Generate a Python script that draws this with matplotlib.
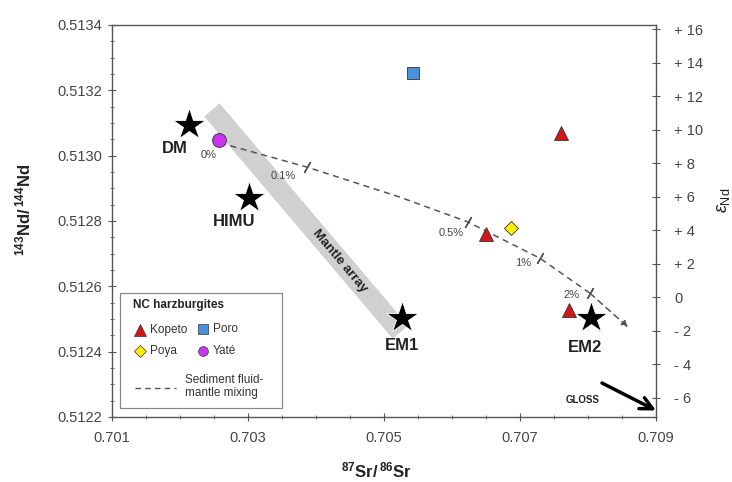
import matplotlib
matplotlib.use("Agg")
import matplotlib.pyplot as plt
from matplotlib.patches import Rectangle
from matplotlib.ticker import MultipleLocator, FixedLocator, FixedFormatter

plt.rcParams['font.family'] = ['Liberation Sans', 'DejaVu Sans']
plt.rcParams['mathtext.fontset'] = 'custom'
plt.rcParams['mathtext.rm'] = 'Liberation Sans'
plt.rcParams['mathtext.bf'] = 'Liberation Sans:bold'
plt.rcParams['mathtext.it'] = 'Liberation Sans:italic'

# ---- data ----
kopeto_sr = [0.70760, 0.70650, 0.70772]
kopeto_nd = [0.513069, 0.512760, 0.512527]
poro_sr = [0.70543]
poro_nd = [0.513253]
poya_sr = [0.70687]
poya_nd = [0.512778]
yate_sr = [0.70257]
yate_nd = [0.513048]

em_names = ["DM", "HIMU", "EM1", "EM2"]
em_sr = [0.70213, 0.70301, 0.70526, 0.70804]
em_nd = [0.513094, 0.512870, 0.512503, 0.512503]
em_label_sr = [0.701926, 0.702794, 0.705265, 0.707956]
em_label_nd = [0.513023, 0.512797, 0.512420, 0.512414]

mix_sr = [0.702588, 0.703868, 0.705235, 0.706235, 0.707294, 0.708029, 0.708588]
mix_nd = [0.513039, 0.512965, 0.512873, 0.512797, 0.512686, 0.512579, 0.512475]
mix_tick_sr = [0.703868, 0.706235, 0.707294, 0.708029]
mix_tick_nd = [0.512965, 0.512797, 0.512686, 0.512579]
mix_labels = ["0%", "0.1%", "0.5%", "1%", "2%"]
mix_label_sr = [0.702426, 0.703515, 0.705985, 0.707044, 0.707750]
mix_label_nd = [0.513002, 0.512938, 0.512763, 0.512671, 0.512573]

mantle_sr = [0.70247, 0.70524]
mantle_nd = [0.51314, 0.51246]

gloss_from = (0.708206, 0.512304)
gloss_to = (0.70900, 0.512220)

sr_ticks = [0.701, 0.703, 0.705, 0.707, 0.709]
sr_labels = ["0.701", "0.703", "0.705", "0.707", "0.709"]
eps_ticks = [-6, -4, -2, 0, 2, 4, 6, 8, 10, 12, 14, 16]
eps_labels = ["- 6", "- 4", "- 2", "0", "+ 2", "+ 4", "+ 6", "+ 8", "+ 10", "+ 12", "+ 14", "+ 16"]

# ---- figure ----
fig = plt.figure(figsize=(7.32, 4.82), dpi=100)
ax = fig.add_axes([112/732, 1-417/482, 544/732, 392/482])
ax.set_xlim(0.701, 0.709)
ax.set_ylim(0.5122, 0.5134)

tick_col = '#444444'
for s in ax.spines.values():
    s.set_color('#555555')
    s.set_linewidth(1.0)

# mantle array band
ax.plot(mantle_sr, mantle_nd, color='#d0d0d0', lw=14.5, solid_capstyle='butt', zorder=1)
ax.text(0.70435, 0.512677, "Mantle array", rotation=-50, rotation_mode='anchor',
        ha='center', va='center', fontsize=9.5, fontweight='bold', color='#222222', zorder=2)

# mixing curve
ax.plot(mix_sr[:-1], mix_nd[:-1], ls=(0, (4, 3)), color='#555555', lw=1.1, zorder=2)
ax.annotate("", xy=(mix_sr[-1], mix_nd[-1]), xytext=(mix_sr[-2], mix_nd[-2]),
            arrowprops=dict(arrowstyle='-|>', color='#555555', lw=1.1, ls=(0, (4, 3)),
                            mutation_scale=9, shrinkA=0, shrinkB=0), zorder=2)
ax.plot(mix_tick_sr, mix_tick_nd, ls='none', marker=(2, 2, -30), ms=9, mew=1.0,
        color='#555555', zorder=2)
for lab, xs, ys in zip(mix_labels, mix_label_sr, mix_label_nd):
    ax.text(xs, ys, lab, fontsize=8, color='#444444', ha='center', va='center', zorder=3)

# end members
ax.plot(em_sr, em_nd, ls='none', marker='*', ms=24, color='black', mec='white', mew=0.6, zorder=4)
for n, xs, ys in zip(em_names, em_label_sr, em_label_nd):
    ax.text(xs, ys, n, fontsize=12, fontweight='bold', color='#222222', ha='center', va='center', zorder=5)

# samples
ax.plot(kopeto_sr, kopeto_nd, ls='none', marker='^', ms=10, mfc='#d01818', mec='#333333', mew=0.6, zorder=6)
ax.plot(poya_sr, poya_nd, ls='none', marker='D', ms=7.5, mfc='#ffee00', mec='#333333', mew=0.6, zorder=6)
ax.plot(poro_sr, poro_nd, ls='none', marker='s', ms=9, mfc='#4a90dd', mec='#333333', mew=0.6, zorder=6)
ax.plot(yate_sr, yate_nd, ls='none', marker='o', ms=10, mfc='#cc33ee', mec='#333333', mew=0.6, zorder=6)

# GLOSS
ax.annotate("", xy=gloss_to, xytext=gloss_from,
            arrowprops=dict(arrowstyle='->', color='black', lw=2.5, mutation_scale=22,
                            shrinkA=0, shrinkB=0), annotation_clip=False, zorder=7)
ax.text(0.707926, 0.512251, "GLOSS", fontsize=7, fontweight='bold', color='#222222',
        ha='center', va='center')

# legend (drawn in axes-fraction coordinates)
T = ax.transAxes
ax.add_patch(Rectangle((0.0147, 0.023), 0.2978, 0.293, transform=T, facecolor='white',
                       edgecolor='#888888', lw=0.9, zorder=8))
ax.text(0.038, 0.286, "NC harzburgites", transform=T, fontsize=8.5, fontweight='bold',
        color='#222222', ha='left', va='center', zorder=9)
leg_items = [
    (0.051, 0.222, '^', 8, '#d01818', 'Kopeto'),
    (0.167, 0.224, 's', 6.5, '#4a90dd', 'Poro'),
    (0.051, 0.168, 'D', 6, '#ffee00', 'Poya'),
    (0.167, 0.168, 'o', 7, '#cc33ee', 'Yaté'),
]
for fx, fy, mk, ms, fc, lab in leg_items:
    ax.plot([fx], [fy], transform=T, ls='none', marker=mk, ms=ms, mfc=fc, mec='#333333',
            mew=0.5, zorder=9, clip_on=False)
    ax.text(fx + 0.018, fy, lab, transform=T, fontsize=8.5, color='#333333',
            ha='left', va='center', zorder=9)
ax.plot([0.042, 0.118], [0.074, 0.074], transform=T, ls=(0, (4, 3)), color='#555555',
        lw=1.0, zorder=9)
ax.text(0.134, 0.077, "Sediment fluid-\nmantle mixing", transform=T, fontsize=8.5,
        color='#333333', ha='left', va='center', linespacing=1.1, zorder=9)

# axes ticks
ax.xaxis.set_major_locator(FixedLocator(sr_ticks))
ax.xaxis.set_major_formatter(FixedFormatter(sr_labels))
ax.xaxis.set_minor_locator(MultipleLocator(0.0005))
ax.yaxis.set_major_locator(MultipleLocator(0.0002))
ax.yaxis.set_minor_locator(MultipleLocator(0.00005))
ax.yaxis.set_major_formatter(plt.FuncFormatter(lambda v, p: f"{v:.4f}"))
ax.tick_params(axis='both', which='major', direction='inout', length=6, width=0.8,
               color='#555555', labelcolor=tick_col, labelsize=10.5)
ax.tick_params(axis='both', which='minor', direction='inout', length=3.5, width=0.6, color='#555555')
ax.tick_params(axis='x', which='major', pad=7)
ax.tick_params(axis='y', which='major', pad=4)

ax.set_xlabel(r"$\mathbf{^{87}Sr/\,^{86}Sr}$", fontsize=12, color='#222222')
ax.xaxis.set_label_coords(0.487, -0.112)
ax.set_ylabel(r"$\mathbf{^{143}Nd/\,^{144}Nd}$", fontsize=12, color='#222222')
ax.yaxis.set_label_coords(-0.145, 0.528)

# right axis (epsilon Nd)
ax2 = ax.twinx()
ax2.set_ylim(-7.16, 16.24)
ax2.yaxis.set_major_locator(FixedLocator(eps_ticks))
ax2.yaxis.set_major_formatter(FixedFormatter(eps_labels))
ax2.tick_params(axis='y', direction='inout', length=6, width=0.8, color='#555555',
                labelcolor=tick_col, labelsize=10.5, pad=10)
for s in ax2.spines.values():
    s.set_visible(False)
ax2.set_ylabel(r"$\epsilon_{\mathrm{Nd}}$", fontsize=13, color='#222222')
ax2.yaxis.set_label_coords(1.108, 0.553)

fig.savefig("out.png", dpi=100)
